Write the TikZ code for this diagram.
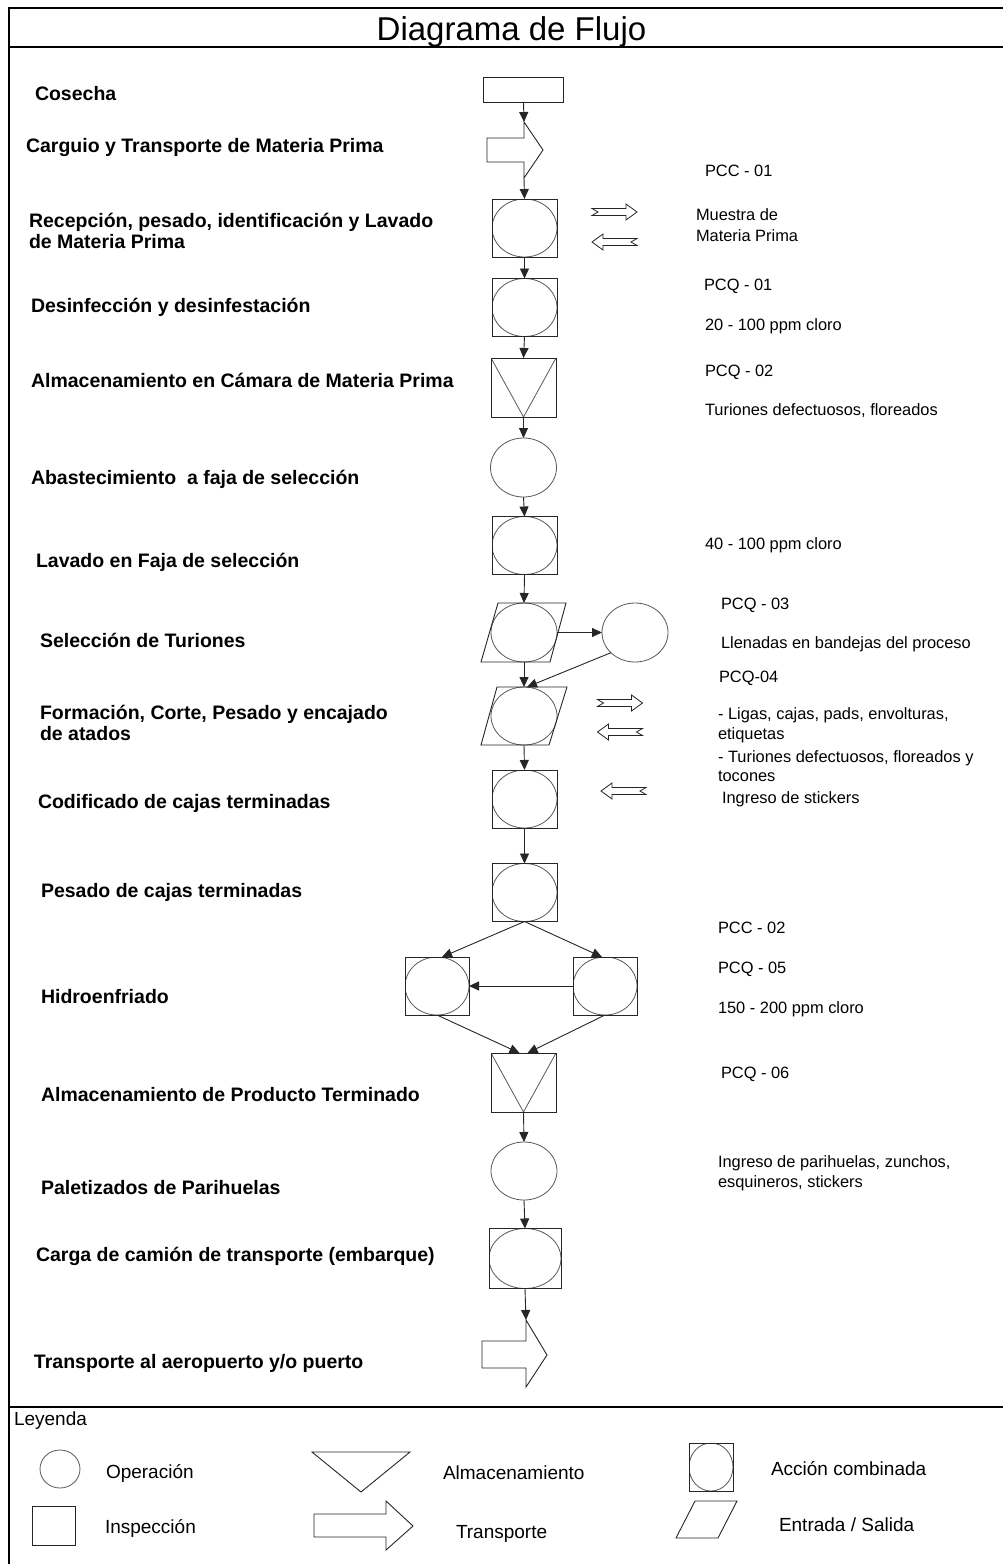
\documentclass[tikz,border=0pt]{standalone}
\usepackage{fontspec}
\setmainfont{Liberation Sans}
\usetikzlibrary{arrows.meta,shapes.geometric,calc}

\begin{document}
\begin{tikzpicture}[x=1pt,y=-1pt,
  every node/.style={inner sep=0pt, outer sep=0pt},
  shp/.style={draw=black!85, line width=0.9pt},
  ell/.style={draw=black!65, line width=0.8pt},
  flow/.style={draw=black!85, line width=0.9pt, -{Triangle[length=10pt,width=9pt]}},
  plainbox/.style={shp, rectangle, minimum width=80pt, minimum height=25pt},
  oper/.style={ell, ellipse, minimum width=66pt, minimum height=59pt},
  combo/.style={shp, rectangle, minimum width=65pt, minimum height=58pt,
    path picture={\draw[ell] let \p1=(path picture bounding box.south west),
      \p2=(path picture bounding box.north east) in
      (path picture bounding box.center) ellipse [x radius={(\x2-\x1)/2}, y radius={(\y2-\y1)/2}];}},
  store/.style={shp, rectangle, minimum width=65pt, minimum height=59pt,
    path picture={\draw[ell] (path picture bounding box.north west) --
      (path picture bounding box.south) -- (path picture bounding box.north east);}},
  lbl/.style={font=\bfseries\fontsize{19.5}{23}\selectfont, anchor=base west},
  note/.style={font=\fontsize{16.4}{19}\selectfont, anchor=base west},
  leg/.style={font=\fontsize{19}{22}\selectfont, anchor=base west},
  hollowarr/.pic={\draw[draw=black!85, line width=0.8pt]
    (-22.5,-3.5) -- (11.5,-3.5) -- (11.5,-8) -- (22.5,0) -- (11.5,8) --
    (11.5,3.5) -- (-22.5,3.5) -- (-16.5,0) -- cycle;}
]
\useasboundingbox (0,0) rectangle (1003,1564);
\fill[white] (0,0) rectangle (1003,1564);

% frame
\draw[line width=2.5pt] (1003,8) -- (9,8) -- (9,1564);
\draw[line width=1.5pt] (9,47) -- (1003,47);
\draw[line width=2pt] (9,1407) -- (1003,1407);
\node[font=\fontsize{33}{36}\selectfont, anchor=base] (title) at (511.5,40) {Diagrama de Flujo};

% ---- process column ----
\node[plainbox] (cos) at (523.5,89.5) {};
\coordinate (tr1in) at (524,122);
\coordinate (tr1out) at (524,178);
\draw[shp] (tr1in) -- (543,150) -- (tr1out) -- (524,162) -- (487,162) -- (487,138) -- (524,138) -- cycle;

\node[combo] (rec) at (524.5,228) {};
\node[combo] (des) at (524.5,307.5) {};
\node[store] (alm) at (523.5,387.5) {};
\node[oper] (aba) at (523.5,467.5) {};
\node[combo] (lav) at (524.5,545.5) {};

\node[oper] (sel) at (524,632.5) {};
\draw[shp] ($(sel)+(-26,-29.5)$) -- ($(sel)+(42,-29.5)$) -- ($(sel)+(26,29.5)$) -- ($(sel)+(-43,29.5)$) -- cycle;
\node[oper] (sub) at (635,632.5) {};

\node[oper, minimum height=58pt] (for) at (524,716) {};
\draw[shp] ($(for)+(-27,-29)$) -- ($(for)+(43,-29)$) -- ($(for)+(25,29)$) -- ($(for)+(-43,29)$) -- cycle;

\node[combo] (cod) at (524.5,799) {};
\node[combo] (pes) at (524.5,892.5) {};
\node[combo, minimum width=64pt] (hil) at (437,986) {};
\node[combo, minimum width=64pt] (hir) at (605,986) {};
\node[store] (apt) at (523.5,1082.5) {};
\node[oper, minimum height=58pt] (pal) at (524,1171) {};
\node[combo, minimum width=72pt, minimum height=60pt] (car) at (525,1258.5) {};

\coordinate (tr2in) at (526,1320);
\coordinate (tr2out) at (526,1387);
\draw[shp] (tr2in) -- (547,1355) -- (tr2out) -- (526,1368) -- (482,1368) -- (482,1341) -- (526,1341) -- cycle;

% connectors
\draw[flow] (cos.south) -- (tr1in);
\draw[flow] (tr1out) -- (rec.north);
\draw[flow] (rec.south) -- (des.north);
\draw[flow] (des.south) -- (alm.north);
\draw[flow] (alm.south) -- (aba.north);
\draw[flow] (aba.south) -- (lav.north);
\draw[flow] (lav.south) -- (sel.north);
\draw[flow] (sel.east) -- (sub.west);
\draw[flow] (sub.220) -- ($(for.north)+(3,0)$);
\draw[flow] (sel.south) -- (for.north);
\draw[flow] (for.south) -- (cod.north);
\draw[flow] (cod.south) -- (pes.north);
\draw[flow] (pes.south) -- ($(hil.north)+(5,0)$);
\draw[flow] (pes.south) -- ($(hir.north)+(-3,0)$);
\draw[flow] (hir.west) -- (hil.east);
\draw[flow] (hil.south) -- ($(apt.north)+(-4,0)$);
\draw[flow] (hir.south) -- ($(apt.north)+(4,0)$);
\draw[flow] (apt.south) -- (pal.north);
\draw[flow] (pal.south) -- (car.north);
\draw[flow] (car.south) -- (tr2in);

% material in / out marks
\pic at (614.5,212) {hollowarr};
\pic[xscale=-1] at (614.5,242) {hollowarr};
\pic at (620,703) {hollowarr};
\pic[xscale=-1] at (620,732) {hollowarr};
\pic[xscale=-1] at (623.5,791) {hollowarr};

% ---- step names ----
\node[lbl] (s1) at (35,100) {Cosecha};
\node[lbl] (s2) at (26,152) {Carguio y Transporte de Materia Prima};
\node[lbl] (s3a) at (29,227) {Recepción, pesado, identificación y Lavado};
\node[lbl] (s3b) at (29,248) {de Materia Prima};
\node[lbl] (s4) at (31,312) {Desinfección y desinfestación};
\node[lbl] (s5) at (31,387) {Almacenamiento en Cámara de Materia Prima};
\node[lbl] (s6) at (31,484) {Abastecimiento \ a faja de selección};
\node[lbl] (s7) at (36,567) {Lavado en Faja de selección};
\node[lbl] (s8) at (40,647) {Selección de Turiones};
\node[lbl] (s9a) at (40,719) {Formación, Corte, Pesado y encajado};
\node[lbl] (s9b) at (40,740) {de atados};
\node[lbl] (s10) at (38,808) {Codificado de cajas terminadas};
\node[lbl] (s11) at (41,897) {Pesado de cajas terminadas};
\node[lbl] (s12) at (41,1003) {Hidroenfriado};
\node[lbl] (s13) at (41,1101) {Almacenamiento de Producto Terminado};
\node[lbl] (s14) at (41,1194) {Paletizados de Parihuelas};
\node[lbl] (s15) at (36,1261) {Carga de camión de transporte (embarque)};
\node[lbl] (s16) at (34,1368) {Transporte al aeropuerto y/o puerto};

% ---- control notes ----
\node[note] (r1) at (705,176) {PCC - 01};
\node[note] (r2a) at (696,220) {Muestra de};
\node[note] (r2b) at (696,241) {Materia Prima};
\node[note] (r3) at (704,290) {PCQ - 01};
\node[note] (r4) at (705,330) {20 - 100 ppm cloro};
\node[note] (r5) at (705,376) {PCQ - 02};
\node[note] (r6) at (705,415) {Turiones defectuosos, floreados};
\node[note] (r7) at (705,549) {40 - 100 ppm cloro};
\node[note] (r8) at (721,609) {PCQ - 03};
\node[note] (r9) at (721,648) {Llenadas en bandejas del proceso};
\node[note] (r10) at (719,682) {PCQ-04};
\node[note] (r11a) at (718,719) {- Ligas, cajas, pads, envolturas,};
\node[note] (r11b) at (718,739) {etiquetas};
\node[note] (r11c) at (718,762) {- Turiones defectuosos, floreados y};
\node[note] (r11d) at (718,781) {tocones};
\node[note] (r12) at (722,803) {Ingreso de stickers};
\node[note] (r13) at (718,933) {PCC - 02};
\node[note] (r14) at (718,973) {PCQ - 05};
\node[note] (r15) at (718,1013) {150 - 200 ppm cloro};
\node[note] (r16) at (721,1078) {PCQ - 06};
\node[note] (r17a) at (718,1167) {Ingreso de parihuelas, zunchos,};
\node[note] (r17b) at (718,1187) {esquineros, stickers};

% ---- legend ----
\node[leg] (lgt) at (14,1425) {Leyenda};
\node[ell, ellipse, minimum width=40pt, minimum height=38pt] (lgop) at (60,1469) {};
\node[leg] at (106,1478) {Operación};
\node[shp, rectangle, minimum width=43pt, minimum height=39pt] (lgin) at (53.5,1525.5) {};
\node[leg] at (105,1533) {Inspección};
\draw[shp] (312,1452) -- (410,1452) -- (361,1492) -- cycle;
\node[leg] at (443,1479) {Almacenamiento};
\draw[shp] (314,1514) -- (386,1514) -- (386,1501) -- (413,1526) -- (386,1550) -- (386,1537) -- (314,1537) -- cycle;
\node[leg] at (456,1538) {Transporte};
\node[combo, minimum width=44pt, minimum height=48pt] (lgco) at (711,1467) {};
\node[leg] at (771,1475) {Acción combinada};
\draw[shp] (695,1501) -- (737,1501) -- (718,1538) -- (676,1538) -- cycle;
\node[leg] at (779,1531) {Entrada / Salida};
\end{tikzpicture}
\end{document}
